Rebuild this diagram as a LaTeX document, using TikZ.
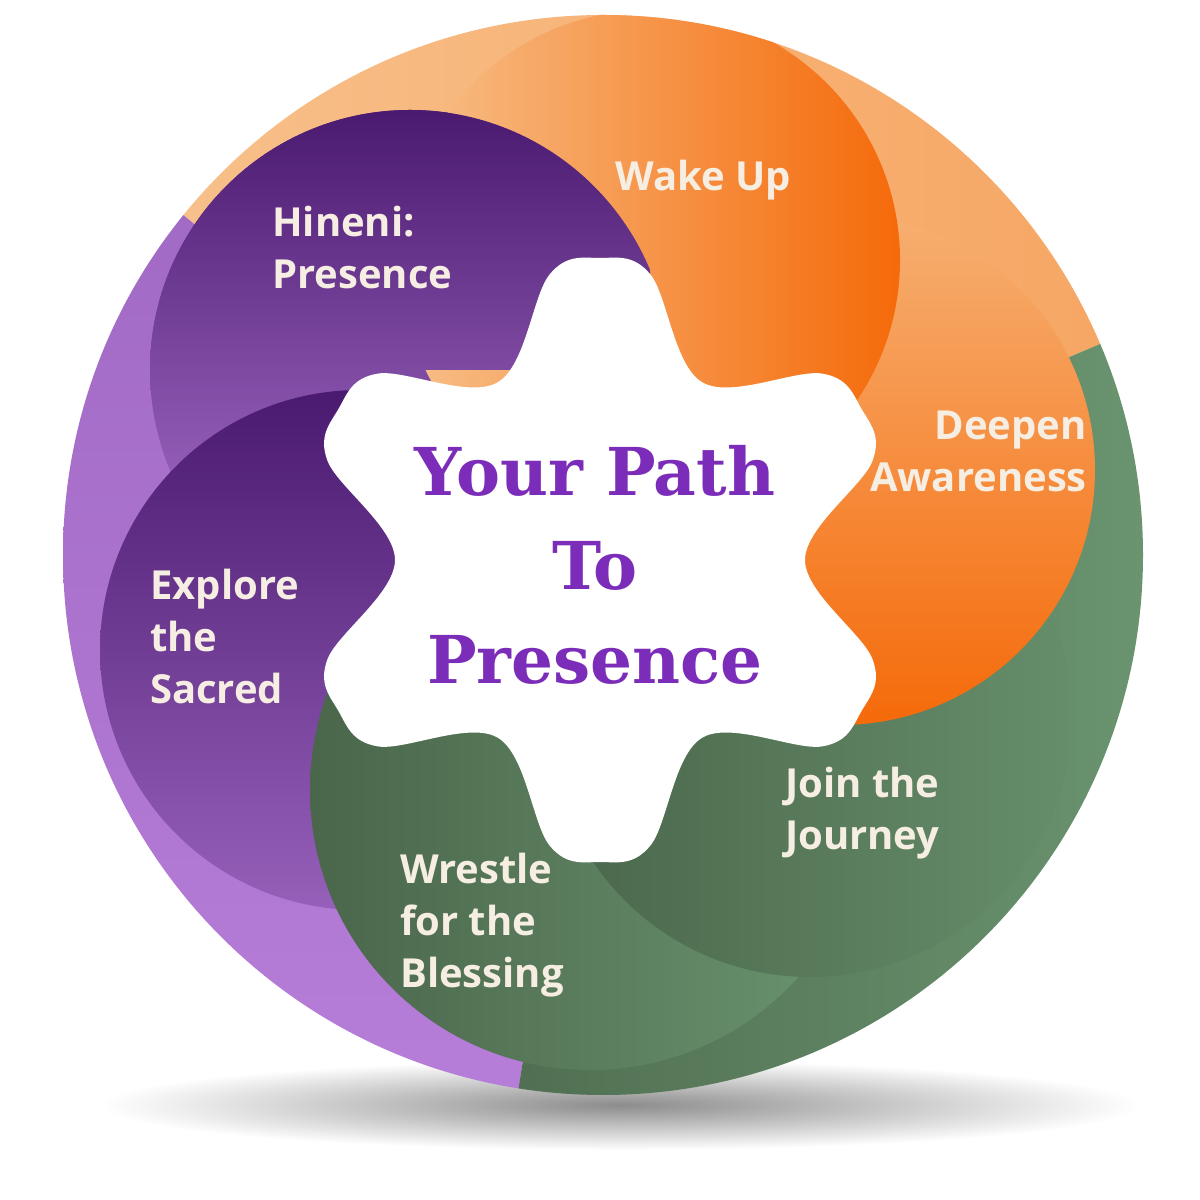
\documentclass[tikz,border=0pt]{standalone}
\usepackage{fontspec}
\setmainfont{Open Sans}
\newfontfamily\titlefont{DejaVu Serif}
\definecolor{peach}{HTML}{F7C08A}
\definecolor{deeporange}{HTML}{F56A0A}
\definecolor{darkpurple}{HTML}{4A1A70}
\definecolor{lightpurple}{HTML}{B77ED9}
\definecolor{darkgreen}{HTML}{4A664B}
\definecolor{lightgreen}{HTML}{6B9570}
\definecolor{cream}{HTML}{F6EEE2}
\definecolor{titlepurple}{HTML}{7B2CB8}
\tikzset{
  steplabel/.style={font=\fontsize{40}{52}\selectfont\bfseries, text=cream, align=left, anchor=west, inner sep=0pt},
  titlelabel/.style={font=\titlefont\fontsize{66}{94}\selectfont\bfseries, text=titlepurple, align=center, inner sep=0pt},
}
\begin{document}
\begin{tikzpicture}[x=1pt,y=1pt]
  \useasboundingbox (0,0) rectangle (1200,1200);
  \fill[white] (0,0) rectangle (1200,1200);
  % shadow
  \shade[inner color=black!45, outer color=white] (620,95) ellipse[x radius=520, y radius=45];
  \coordinate (c) at (603,645);
  \begin{scope}
    \clip (c) circle[radius=540];
    % base sectors
    \shade[left color=peach, right color=peach!70!deeporange]
      (c) -- ++(23:560) arc[start angle=23, end angle=141, radius=560] -- cycle;
    \shade[top color=lightpurple!80!darkpurple, bottom color=lightpurple]
      (c) -- ++(141:560) arc[start angle=141, end angle=261, radius=560] -- cycle;
    \shade[left color=darkgreen!80!lightgreen, right color=lightgreen]
      (c) -- ++(261:560) arc[start angle=261, end angle=383, radius=560] -- cycle;
    % lobes
    \shade[shading angle=-35, top color=darkpurple, bottom color=lightpurple!95!darkpurple] (410,830) circle[radius=260];
    \shade[top color=darkpurple, bottom color=lightpurple!70!darkpurple] (360,550) circle[radius=260];
    \shade[left color=darkgreen, right color=lightgreen] (590,410) circle[radius=280];
    \shade[shading angle=-30, left color=darkgreen, right color=lightgreen!85!darkgreen] (810,485) circle[radius=262];
    \shade[shading angle=30, top color=peach!80!deeporange, bottom color=deeporange] (840,730) circle[radius=255];
    \shade[left color=peach, right color=deeporange] (650,940) circle[radius=250];
    \begin{scope}
      \clip (0,830) rectangle (650,1200);
      \shade[shading angle=-35, top color=darkpurple, bottom color=lightpurple!95!darkpurple] (410,830) circle[radius=260];
    \end{scope}
  \end{scope}
  % star
  \begin{scope}[shift={(600,640)}]
    \fill[white] plot[smooth cycle, tension=0.6] coordinates {
      (80:290) (90:302) (100:290) (120:205)
      (140:290) (150:302) (160:290) (180:205)
      (200:290) (210:302) (220:290) (240:205)
      (260:290) (270:302) (280:290) (300:205)
      (320:290) (330:302) (340:290) (0:205)
      (20:290) (30:302) (40:290) (60:205)};
  \end{scope}
  % labels
  \node[titlelabel] (title) at (595,635) {Your Path\\To\\Presence};
  \node[steplabel] (hineni) at (272,952) {Hineni:\\Presence};
  \node[steplabel] (wakeup) at (615,1020) {Wake Up};
  \node[steplabel, anchor=east, align=right] (deepen) at (1087,749) {Deepen\\Awareness};
  \node[steplabel] (join) at (785,387) {Join the\\Journey};
  \node[steplabel] (wrestle) at (400,275) {Wrestle\\for the\\Blessing};
  \node[steplabel] (explore) at (150,563) {Explore\\the\\Sacred};
\end{tikzpicture}
\end{document}
